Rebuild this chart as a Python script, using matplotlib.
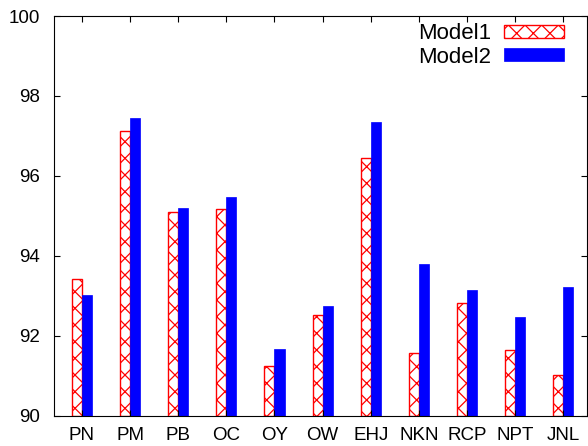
#Model1 vs Model2 accuracy per dataset

import numpy as np
from matplotlib import pyplot as plt

plt.rcParams['font.family'] = ['Liberation Sans', 'DejaVu Sans']
plt.rcParams['hatch.linewidth'] = 0.9

datasets = ['PN', 'PM', 'PB', 'OC', 'OY', 'OW', 'EHJ', 'NKN', 'RCP', 'NPT', 'JNL']
model1 = [93.42, 97.13, 95.10, 95.17, 91.24, 92.52, 96.44, 91.57, 92.82, 91.64, 91.02]
model2 = [93.02, 97.45, 95.19, 95.47, 91.68, 92.75, 97.36, 93.79, 93.15, 92.46, 93.22]

x = np.arange(len(datasets))
w = 0.21

fig = plt.figure(figsize=(5.88, 4.46), dpi=100)
ax = fig.add_axes([0.091, 0.068, 0.908, 0.896])

ax.bar(x - w/2, [v - 90 for v in model1], w, bottom=90, color='white',
       edgecolor='red', hatch='xx', linewidth=1.0, label='Model1')
ax.bar(x + w/2, [v - 90 for v in model2], w, bottom=90, color='blue',
       edgecolor='blue', linewidth=0.5, label='Model2')

ax.set_xlim(-0.59, 10.5)
ax.set_ylim(90, 100)
ax.set_yticks(np.arange(90, 101, 2))
ax.set_xticks(x)
ax.set_xticklabels(datasets)
ax.tick_params(axis='y', direction='in', length=4.3, width=0.8, labelsize=13.5,
               pad=10, right=True)
ax.tick_params(axis='x', direction='in', length=4.3, width=0.8, labelsize=13.5,
               pad=8, top=True)
for s in ax.spines.values():
    s.set_linewidth(0.8)

ax.legend(loc='upper right', frameon=False, markerfirst=False, fontsize=16,
          handlelength=2.7, handleheight=0.5, handletextpad=0.6,
          labelspacing=0.1, borderaxespad=0.2, bbox_to_anchor=(0.982, 1.015))

fig.savefig('out.png', dpi=100)
